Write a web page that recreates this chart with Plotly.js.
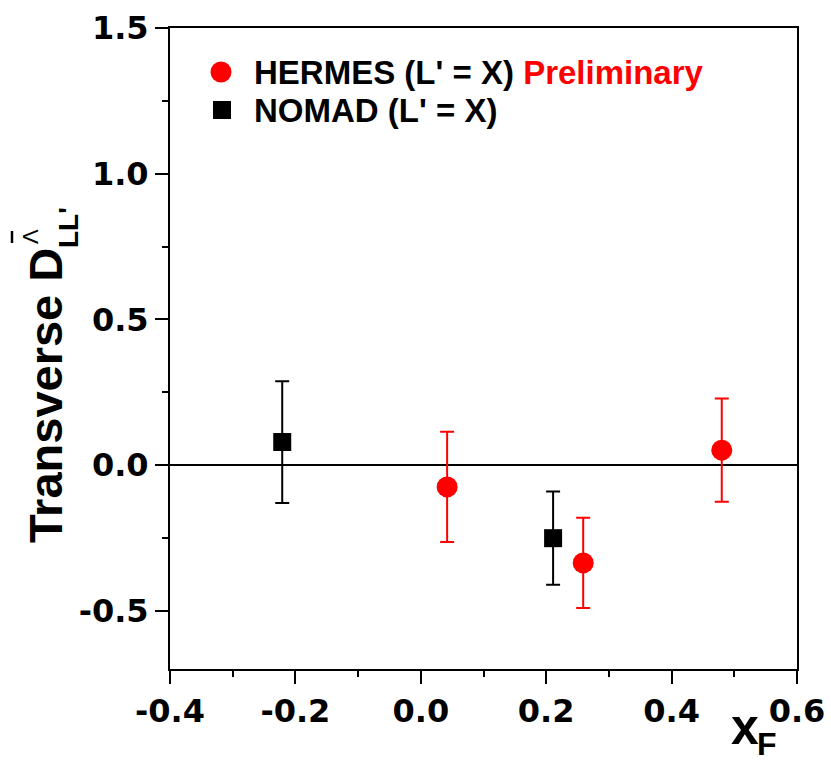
<!DOCTYPE html>
<html>
<head>
<meta charset="utf-8">
<script src="https://cdn.plot.ly/plotly-3.0.1.min.js"></script>
<style>html,body{margin:0;padding:0;background:#fff;}#chart{width:831px;height:764px;}</style>
</head>
<body>
<div id="chart"></div>
<script>
// HERMES (L' = X) Preliminary
const hermesX = [0.042, 0.259, 0.480];
const hermesY = [-0.075, -0.336, 0.051];
const hermesErr = [0.189, 0.155, 0.177];
// NOMAD (L' = X)
const nomadX = [-0.221, 0.211];
const nomadY = [0.079, -0.251];
const nomadErr = [0.209, 0.160];

const xTickVals = [-0.4, -0.2, 0.0, 0.2, 0.4, 0.6];
const xTickText = ['-0.4', '-0.2', '0.0', '0.2', '0.4', '0.6'];
const yTickVals = [-0.5, 0.0, 0.5, 1.0, 1.5];
const yTickText = ['-0.5', '0.0', '0.5', '1.0', '1.5'];

const hermesLabel = "HERMES (L' = X) <span style='color:#ff0000'>Preliminary</span>";
const nomadLabel = "NOMAD (L' = X)";

const boldFont = 'Liberation Sans, Arial, sans-serif';
const tickFont = {family: 'DejaVu Sans, sans-serif', size: 32, weight: 700, color: '#000'};

const traces = [
  {
    x: hermesX, y: hermesY, type: 'scatter', mode: 'markers',
    name: "HERMES (L' = X) Preliminary", showlegend: false,
    marker: {symbol: 'circle', size: 21, color: '#ff0000'},
    error_y: {type: 'data', array: hermesErr, visible: true, color: '#ff0000', thickness: 2, width: 7}
  },
  {
    x: nomadX, y: nomadY, type: 'scatter', mode: 'markers',
    name: "NOMAD (L' = X)", showlegend: false,
    marker: {symbol: 'square', size: 18, color: '#000000'},
    error_y: {type: 'data', array: nomadErr, visible: true, color: '#000000', thickness: 2, width: 7}
  }
];

const L = 170, T = 28, W = 627, H = 641;
function px(x) { return (x - L) / W; }
function py(y) { return (T + H - y) / H; }

const layout = {
  width: 831, height: 764,
  margin: {l: L, r: 831 - L - W, t: T, b: 764 - T - H},
  paper_bgcolor: '#fff', plot_bgcolor: '#fff',
  showlegend: false,
  xaxis: {
    range: [-0.4, 0.6], tickvals: xTickVals, ticktext: xTickText,
    showgrid: false, zeroline: false, showline: true, linecolor: '#000', linewidth: 2, mirror: true,
    ticks: 'outside', ticklen: 13, tickwidth: 2, tickcolor: '#000', tickfont: tickFont,
    minor: {dtick: 0.1, tick0: 0, ticks: 'outside', ticklen: 6, tickwidth: 2, tickcolor: '#000', showgrid: false}
  },
  yaxis: {
    range: [-0.7, 1.5], tickvals: yTickVals, ticktext: yTickText,
    showgrid: false, zeroline: true, zerolinecolor: '#000', zerolinewidth: 2,
    showline: true, linecolor: '#000', linewidth: 2, mirror: true,
    ticks: 'outside', ticklen: 13, tickwidth: 2, tickcolor: '#000', tickfont: tickFont,
    minor: {dtick: 0.25, tick0: 0, ticks: 'outside', ticklen: 6, tickwidth: 2, tickcolor: '#000', showgrid: false}
  },
  shapes: [
    // legend symbols
    {type: 'circle', xref: 'paper', yref: 'paper', xsizemode: 'pixel', ysizemode: 'pixel',
     xanchor: px(221), yanchor: py(72), x0: -10.5, x1: 10.5, y0: -10.5, y1: 10.5,
     fillcolor: '#ff0000', line: {width: 0}},
    {type: 'rect', xref: 'paper', yref: 'paper', xsizemode: 'pixel', ysizemode: 'pixel',
     xanchor: px(222), yanchor: py(110), x0: -9, x1: 9, y0: -9, y1: 9,
     fillcolor: '#000000', line: {width: 0}},
    // bar over the Lambda superscript
    {type: 'line', xref: 'paper', yref: 'paper', xsizemode: 'pixel', ysizemode: 'pixel',
     xanchor: px(12), yanchor: py(237), x0: 0, x1: 0, y0: -6, y1: 6,
     line: {color: '#000', width: 2.5}}
  ],
  annotations: [
    {xref: 'paper', yref: 'paper', x: px(252), y: py(72.5), xanchor: 'left', yanchor: 'middle',
     text: hermesLabel, showarrow: false,
     font: {family: boldFont, size: 33, weight: 700, color: '#000'}},
    {xref: 'paper', yref: 'paper', x: px(252), y: py(110.5), xanchor: 'left', yanchor: 'middle',
     text: nomadLabel, showarrow: false,
     font: {family: boldFont, size: 33, weight: 700, color: '#000'}},
    {xref: 'paper', yref: 'paper', x: px(45), y: py(396), xanchor: 'center', yanchor: 'middle',
     text: 'Transverse D', textangle: -90, showarrow: false,
     font: {family: boldFont, size: 47, weight: 700, color: '#000'}},
    {xref: 'paper', yref: 'paper', x: px(31), y: py(237), xanchor: 'center', yanchor: 'middle',
     text: 'Λ', textangle: -90, showarrow: false,
     font: {family: boldFont, size: 22, weight: 400, color: '#000'}},
    {xref: 'paper', yref: 'paper', x: px(69), y: py(228), xanchor: 'center', yanchor: 'middle',
     text: "LL'", textangle: -90, showarrow: false,
     font: {family: boldFont, size: 28, weight: 700, color: '#000'}},
    {xref: 'paper', yref: 'paper', x: px(745), y: py(727), xanchor: 'center', yanchor: 'middle',
     text: 'x', showarrow: false,
     font: {family: boldFont, size: 50, weight: 700, color: '#000'}},
    {xref: 'paper', yref: 'paper', x: px(767), y: py(744), xanchor: 'center', yanchor: 'middle',
     text: 'F', showarrow: false,
     font: {family: boldFont, size: 32, weight: 700, color: '#000'}}
  ]
};

Plotly.newPlot('chart', traces, layout, {staticPlot: true, displayModeBar: false});
</script>
</body>
</html>
